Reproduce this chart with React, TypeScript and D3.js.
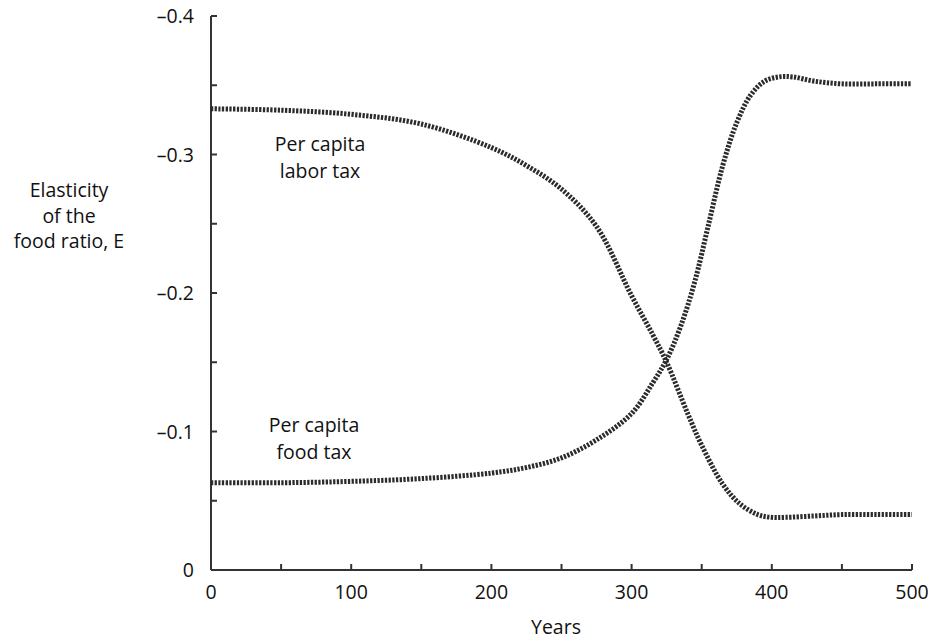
import React from "react";
import * as d3 from "d3";

// Years sampled along each simulated path
const foodYears = [0, 50, 100, 150, 200, 225, 250, 275, 300, 315, 325, 335, 345, 355, 365, 375, 385, 395, 405, 415, 430, 450, 475, 500];
// Elasticity (negative) under a per capita food tax
const foodTax = [-0.063, -0.063, -0.064, -0.066, -0.070, -0.074, -0.081, -0.094, -0.113, -0.135, -0.152, -0.176, -0.208, -0.250, -0.292, -0.323, -0.343, -0.353, -0.356, -0.356, -0.353, -0.351, -0.351, -0.351];

const laborYears = [0, 50, 100, 150, 200, 225, 250, 275, 300, 315, 325, 340, 350, 365, 377, 390, 400, 410, 430, 450, 475, 500];
// Elasticity (negative) under a per capita labor tax
const laborTax = [-0.333, -0.332, -0.329, -0.322, -0.305, -0.292, -0.275, -0.248, -0.198, -0.170, -0.150, -0.113, -0.090, -0.062, -0.048, -0.040, -0.038, -0.038, -0.039, -0.040, -0.040, -0.040];

const xTickValues = [0, 100, 200, 300, 400, 500];
const xMinorTicks = [50, 150, 250, 350, 450];
const yTickValues = [0, -0.1, -0.2, -0.3, -0.4];
const yMinorTicks = [-0.05, -0.15, -0.25, -0.35];

const yTitleLines = ["Elasticity", "of the", "food ratio, E"];
const laborLabel = ["Per capita", "labor tax"];
const foodLabel = ["Per capita", "food tax"];

const W = 930;
const H = 639;
const FONT = "'Open Sans', 'Noto Sans', sans-serif";
const INK = "#333";

export default function App() {
  const x = d3.scaleLinear().domain([0, 500]).range([211, 912]);
  const y = d3.scaleLinear().domain([0, -0.4]).range([570, 16]);

  const line = d3
    .line<[number, number]>()
    .x((d) => x(d[0]))
    .y((d) => y(d[1]))
    .curve(d3.curveCatmullRom.alpha(0.5));

  const foodPts = foodYears.map((yr, i) => [yr, foodTax[i]] as [number, number]);
  const laborPts = laborYears.map((yr, i) => [yr, laborTax[i]] as [number, number]);

  const fmt = (v: number) => (v === 0 ? "0" : "\u2013" + Math.abs(v).toFixed(1));
  const tickLen = 6;

  return (
    <svg width={W} height={H} style={{ display: "block", position: "absolute", left: 0, top: 0 }} fontFamily={FONT}>
      <rect width={W} height={H} fill="#fff" />

      {/* axes */}
      <line x1={x(0)} x2={x(0)} y1={y(-0.4)} y2={y(0)} stroke={INK} strokeWidth={2} />
      <line x1={x(0)} x2={x(500)} y1={y(0)} y2={y(0)} stroke={INK} strokeWidth={2} />

      {/* y ticks (inward) */}
      {[...yTickValues, ...yMinorTicks].map((v) => (
        <line key={"yt" + v} x1={x(0)} x2={x(0) + tickLen} y1={y(v)} y2={y(v)} stroke={INK} strokeWidth={2} />
      ))}
      {yTickValues.map((v) => (
        <text key={"yl" + v} x={194} y={y(v) + 7} textAnchor="end" fontSize={19.5} fill="#111">
          {fmt(v)}
        </text>
      ))}

      {/* x ticks (inward) */}
      {[...xTickValues, ...xMinorTicks].map((v) => (
        <line key={"xt" + v} x1={x(v)} x2={x(v)} y1={y(0)} y2={y(0) - tickLen} stroke={INK} strokeWidth={2} />
      ))}
      {xTickValues.map((v) => (
        <text key={"xl" + v} x={x(v)} y={599} textAnchor="middle" fontSize={19.5} fill="#111">
          {v}
        </text>
      ))}

      <text x={556} y={634} textAnchor="middle" fontSize={19.5} fill="#111">
        Years
      </text>

      {yTitleLines.map((t, i) => (
        <text key={t} x={69} y={197 + i * 25.5} textAnchor="middle" fontSize={19.5} fill="#111">
          {t}
        </text>
      ))}

      {/* series */}
      <path d={line(laborPts) ?? ""} fill="none" stroke="#2b2b2b" strokeWidth={5} strokeDasharray="2.3 1.4" />
      <path d={line(foodPts) ?? ""} fill="none" stroke="#2b2b2b" strokeWidth={5} strokeDasharray="2.3 1.4" />

      {laborLabel.map((t, i) => (
        <text key={"lab" + i} x={320} y={151 + i * 27} textAnchor="middle" fontSize={19.5} fill="#111">
          {t}
        </text>
      ))}
      {foodLabel.map((t, i) => (
        <text key={"food" + i} x={314} y={432 + i * 27} textAnchor="middle" fontSize={19.5} fill="#111">
          {t}
        </text>
      ))}
    </svg>
  );
}
